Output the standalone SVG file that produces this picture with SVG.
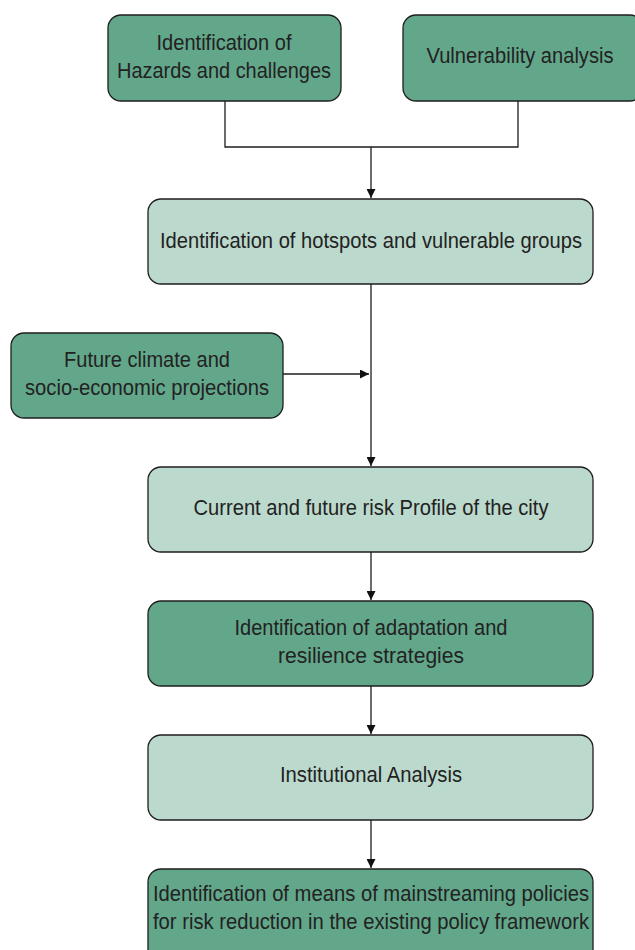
<svg xmlns="http://www.w3.org/2000/svg" width="635" height="950" viewBox="0 0 635 950">
  <style>
    .box { stroke: #1e1e1e; stroke-width: 1.3; }
    .dark { fill: #63a78b; }
    .light { fill: #bcd9cd; }
    .lbl { font-family: "Liberation Sans", Arial, sans-serif; font-size: 22px; fill: #222; text-anchor: middle; }
    .wire { fill: none; stroke: #1e1e1e; stroke-width: 1.3; }
  </style>
  <defs>
    <marker id="arrow" viewBox="0 0 10 10" refX="10" refY="5" markerWidth="10" markerHeight="9" markerUnits="userSpaceOnUse" orient="auto">
      <path d="M0,0 L10,5 L0,10 z" fill="#111"/>
    </marker>
  </defs>
  <rect width="635" height="950" fill="#ffffff"/>

  <g id="connectors">
    <path class="wire" d="M225,101 V147 H518 V101"/>
    <path class="wire" d="M371,147 V198" marker-end="url(#arrow)"/>
    <path class="wire" d="M371,284 V466" marker-end="url(#arrow)"/>
    <path class="wire" d="M283,374 H369" marker-end="url(#arrow)"/>
    <path class="wire" d="M371,552 V600" marker-end="url(#arrow)"/>
    <path class="wire" d="M371,686 V734" marker-end="url(#arrow)"/>
    <path class="wire" d="M371,820 V868" marker-end="url(#arrow)"/>
  </g>

  <g id="hazards">
    <rect class="box dark" x="108" y="15" width="233" height="86" rx="13"/>
    <text class="lbl" x="224" y="50" textLength="135" lengthAdjust="spacingAndGlyphs">Identification of</text>
    <text class="lbl" x="224" y="78" textLength="214" lengthAdjust="spacingAndGlyphs">Hazards and challenges</text>
  </g>

  <g id="vulnerability">
    <rect class="box dark" x="403" y="15" width="240" height="86" rx="13"/>
    <text class="lbl" x="520" y="63" textLength="187" lengthAdjust="spacingAndGlyphs">Vulnerability analysis</text>
  </g>

  <g id="hotspots">
    <rect class="box light" x="148" y="199" width="445" height="85" rx="13"/>
    <text class="lbl" x="371" y="248" textLength="422" lengthAdjust="spacingAndGlyphs">Identification of hotspots and vulnerable groups</text>
  </g>

  <g id="projections">
    <rect class="box dark" x="11" y="333" width="272" height="85" rx="13"/>
    <text class="lbl" x="147" y="367" textLength="166" lengthAdjust="spacingAndGlyphs">Future climate and</text>
    <text class="lbl" x="147" y="395" textLength="244" lengthAdjust="spacingAndGlyphs">socio-economic projections</text>
  </g>

  <g id="risk-profile">
    <rect class="box light" x="148" y="467" width="445" height="85" rx="13"/>
    <text class="lbl" x="371" y="515" textLength="355" lengthAdjust="spacingAndGlyphs">Current and future risk Profile of the city</text>
  </g>

  <g id="strategies">
    <rect class="box dark" x="148" y="601" width="445" height="85" rx="13"/>
    <text class="lbl" x="371" y="635" textLength="273" lengthAdjust="spacingAndGlyphs">Identification of adaptation and</text>
    <text class="lbl" x="371" y="663" textLength="186" lengthAdjust="spacingAndGlyphs">resilience strategies</text>
  </g>

  <g id="institutional">
    <rect class="box light" x="148" y="735" width="445" height="85" rx="13"/>
    <text class="lbl" x="371" y="782" textLength="182" lengthAdjust="spacingAndGlyphs">Institutional Analysis</text>
  </g>

  <g id="mainstreaming">
    <rect class="box dark" x="148" y="869" width="445" height="95" rx="13"/>
    <text class="lbl" x="371" y="901" textLength="436" lengthAdjust="spacingAndGlyphs">Identification of means of mainstreaming policies</text>
    <text class="lbl" x="371" y="929" textLength="436" lengthAdjust="spacingAndGlyphs">for risk reduction in the existing policy framework</text>
  </g>
</svg>
